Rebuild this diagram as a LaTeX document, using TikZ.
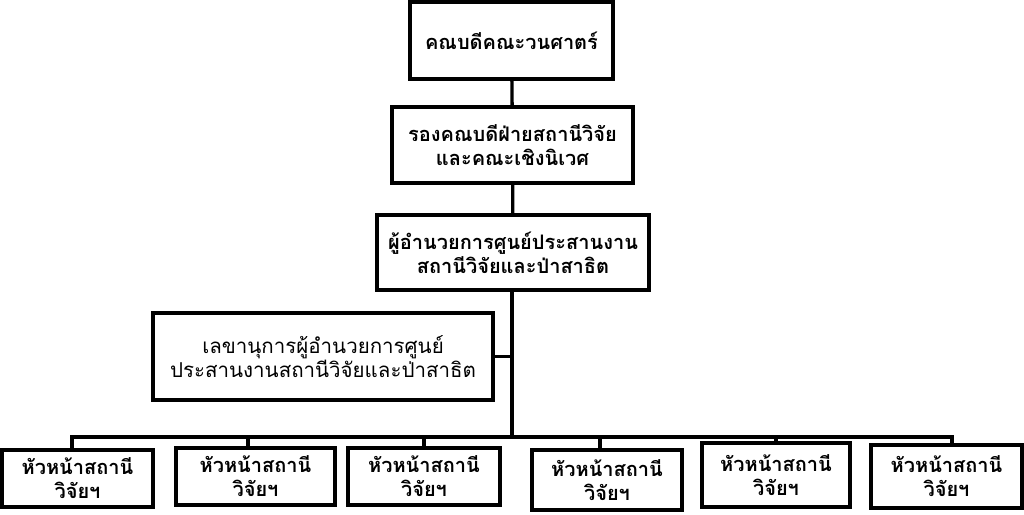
\documentclass[tikz,border=0pt]{standalone}
\usepackage{fontspec}
\newfontfamily\thaifont[Script=Thai]{Loma}

\begin{document}
\begin{tikzpicture}[x=1pt, y=-1pt,
    box/.style={rectangle, draw, line width=3.3pt, align=center, inner sep=0pt,
        font=\thaifont\bfseries\fontsize{20}{24}\selectfont},
    link/.style={line width=3.3pt}]

    \useasboundingbox (0,0) rectangle (1024,514);

    \node[box, minimum width=203pt, minimum height=77pt] (dean) at (511.5,40.5) {คณบดีคณะวนศาตร์};
    \node[box, minimum width=241pt, minimum height=76pt] (vice) at (512.5,145) {รองคณบดีฝ่ายสถานีวิจัย\\และคณะเชิงนิเวศ};
    \node[box, minimum width=272pt, minimum height=75pt] (dir) at (513,252.5) {ผู้อำนวยการศูนย์ประสานงาน\\สถานีวิจัยและป่าสาธิต};
    \node[box, minimum width=340pt, minimum height=87pt,
        font=\thaifont\fontsize{20.5}{24}\selectfont] (sec) at (323,356.5) {เลขานุการผู้อำนวยการศูนย์\\ประสานงานสถานีวิจัยและป่าสาธิต};

    \node[box, minimum width=151pt, minimum height=57pt] (st1) at (77.5,478.5) {หัวหน้าสถานี\\วิจัยฯ};
    \node[box, minimum width=159pt, minimum height=57pt] (st2) at (255.5,476.5) {หัวหน้าสถานี\\วิจัยฯ};
    \node[box, minimum width=152pt, minimum height=57pt] (st3) at (424,476.5) {หัวหน้าสถานี\\วิจัยฯ};
    \node[box, minimum width=150pt, minimum height=60pt] (st4) at (607,480) {หัวหน้าสถานี\\วิจัยฯ};
    \node[box, minimum width=148pt, minimum height=64pt] (st5) at (776,475) {หัวหน้าสถานี\\วิจัยฯ};
    \node[box, minimum width=151pt, minimum height=63pt] (st6) at (946.5,476.5) {หัวหน้าสถานี\\วิจัยฯ};

    \coordinate (hub) at (512,437);
    \draw[link] (dean) -- (vice);
    \draw[link] (vice) -- (dir);
    \draw[link] (dir.south -| hub) -- (hub);
    \draw[link] (sec.east) -- (sec.east -| hub);

    % bus to the stations
    \foreach \i/\x in {1/72,2/248,3/424,4/600,5/776,6/952} {
        \coordinate (t\i) at (\x,437);
        \draw[link] (t\i) -- (t\i |- st\i.north);
    }
    \draw[link, line cap=rect] (t1) -- (t6);
\end{tikzpicture}
\end{document}
